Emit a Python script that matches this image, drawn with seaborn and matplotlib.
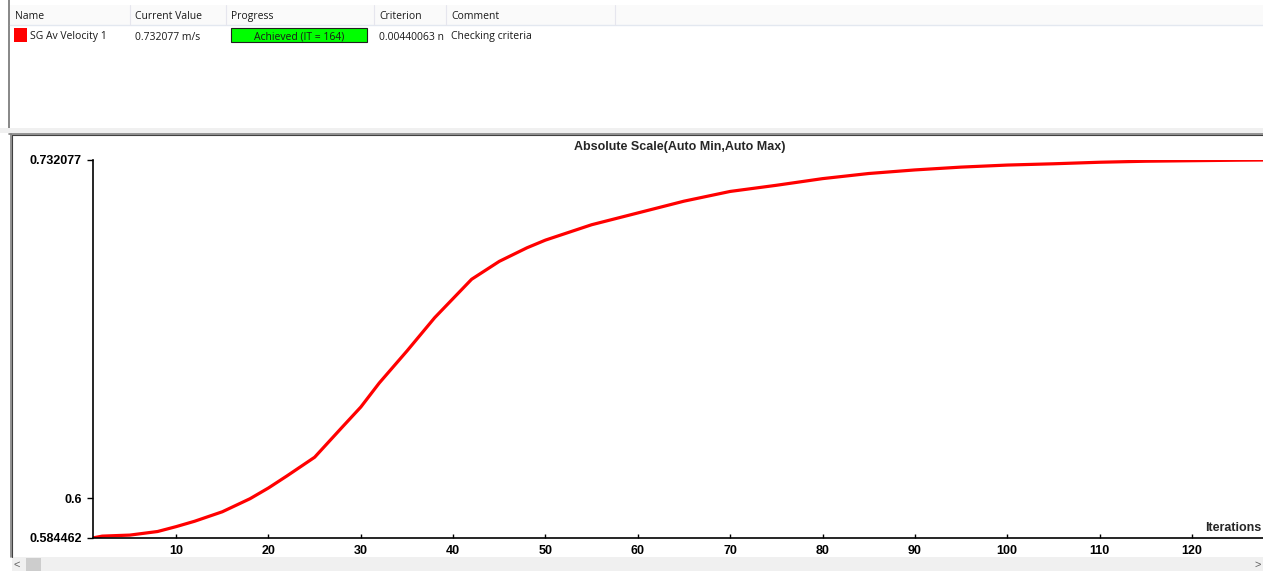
import matplotlib
matplotlib.use("Agg")
import matplotlib.pyplot as plt
from matplotlib.patches import Rectangle
import pandas as pd
import seaborn as sns

# Goal history: SG Av Velocity 1 [m/s] versus solver iteration
iterations = [1, 2, 5, 8, 10, 12, 15, 18, 20, 22, 25, 28, 30, 32, 35, 38, 40, 42,
              45, 48, 50, 55, 60, 65, 70, 75, 80, 85, 90, 95, 100, 105, 110, 115,
              120, 125, 128]
velocity = [0.5845, 0.5852, 0.5856, 0.5870, 0.5889, 0.5910, 0.5947, 0.5998, 0.6040,
            0.6087, 0.6160, 0.6278, 0.6356, 0.6450, 0.6575, 0.6705, 0.6780, 0.6855,
            0.6925, 0.6978, 0.7008, 0.7068, 0.7114, 0.7160, 0.7198, 0.7222, 0.7248,
            0.7268, 0.7282, 0.7293, 0.7301, 0.7306, 0.7312, 0.7316, 0.7318, 0.7320,
            0.73208]

y_ticks = [0.584462, 0.6, 0.732077]
y_tick_labels = ["0.584462", "0.6", "0.732077"]
x_ticks = [10, 20, 30, 40, 50, 60, 70, 80, 90, 100, 110, 120]

# Goals table
col_headers = ["Name", "Current Value", "Progress", "Criterion", "Comment"]
goal_row = ["SG Av Velocity 1", "0.732077 m/s", "Achieved (IT = 164)", "0.00440063 n",
            "Checking criteria"]

sns.set_style("white")
plt.rcParams["font.family"] = ["Liberation Sans", "DejaVu Sans"]

W, H = 1263, 571
fig = plt.figure(figsize=(W / 100, H / 100), dpi=100)

# Window chrome drawn in pixel coordinates
bg = fig.add_axes([0, 0, 1, 1])
bg.set_xlim(0, W)
bg.set_ylim(H, 0)
bg.axis("off")

# goals table panel
bg.add_patch(Rectangle((0, 0), W, 128, facecolor="white", edgecolor="none"))
bg.add_patch(Rectangle((8, 0), 1.6, 128, facecolor="#8a8a8a", edgecolor="none"))
bg.add_patch(Rectangle((10, 5), W - 10, 20, facecolor="#fafafa", edgecolor="none"))
bg.plot([10, W], [25, 25], color="#e3e8f0", lw=1)
col_x = [15, 135, 231, 379, 451]
sep_x = [130, 226, 374, 446, 615]
for sx in sep_x:
    bg.plot([sx, sx], [5, 25], color="#e6e6ee", lw=0.8)
for cx, name in zip(col_x, col_headers):
    bg.text(cx, 15, name, fontsize=7.5, va="center_baseline", ha="left", color="#1a1a1a",
            family=["Open Sans", "DejaVu Sans"])
bg.add_patch(Rectangle((14, 28), 13, 14, facecolor="#ff0000", edgecolor="none"))
bg.add_patch(Rectangle((231, 28), 136, 14, facecolor="#00ff00", edgecolor="#202020", lw=0.8))
row_x = [30, 135, 299, 379, 451]
for i, (rx, val) in enumerate(zip(row_x, goal_row)):
    bg.text(rx, 35.5, val, fontsize=7.5, va="center_baseline",
            ha="center" if i == 2 else "left",
            color="#1a1a1a", family=["Open Sans", "DejaVu Sans"])

# splitter between panels
bg.add_patch(Rectangle((0, 128), W, 5, facecolor="#f0f0f0", edgecolor="none"))
bg.plot([9, W], [133.5, 133.5], color="#808080", lw=1.2)
bg.plot([10.5, 10.5], [133.5, 557], color="#808080", lw=1.2)
bg.plot([11.5, W], [135, 135], color="#404040", lw=0.8)
bg.plot([11.8, 11.8], [135, 557], color="#404040", lw=0.8)

# horizontal scroll bar
bg.add_patch(Rectangle((12, 557), W - 12, 14, facecolor="#f0f0f0", edgecolor="none"))
bg.add_patch(Rectangle((26, 558), 15, 13, facecolor="#cdcdcd", edgecolor="none"))
bg.text(17, 565, "<", fontsize=8, ha="center", va="center", color="#606060")
bg.text(1258, 565, ">", fontsize=8, ha="center", va="center", color="#606060")

# Goal plot
left, right, top, bottom = 93, 1263, 160, 538
ax = fig.add_axes([left / W, (H - bottom) / H, (right - left) / W, (bottom - top) / H])
ax.set_facecolor("none")

df = pd.DataFrame({"Iterations": iterations, "Velocity": velocity})
sns.lineplot(data=df, x="Iterations", y="Velocity", ax=ax, color="#ff0000",
             linewidth=2.3, clip_on=True)

ax.set_xlim(1, 127.7)
ax.set_ylim(y_ticks[0], y_ticks[-1])
ax.set_xticks(x_ticks)
ax.set_xticklabels([str(t) for t in x_ticks], fontsize=9, fontweight="bold")
ax.set_yticks(y_ticks)
ax.set_yticklabels(y_tick_labels, fontsize=9, fontweight="bold")
ax.tick_params(axis="x", bottom=True, direction="in", length=3, width=1, pad=5,
               colors="black")
ax.tick_params(axis="y", left=True, direction="out", length=4, width=1, pad=4,
               colors="black")
ax.set_xlabel("")
ax.set_ylabel("")
for side in ["top", "right"]:
    ax.spines[side].set_visible(False)
for side in ["left", "bottom"]:
    ax.spines[side].set_color("black")
    ax.spines[side].set_linewidth(1.2)

ax.set_title("Absolute Scale(Auto Min,Auto Max)", fontsize=9, fontweight="bold",
             x=(680 - left) / (right - left), y=1.0, pad=7)
ax.text(1233, 528, "Iterations", transform=bg.transData, fontsize=9,
        fontweight="bold", ha="center", va="center")

fig.savefig("out.png", dpi=100)
